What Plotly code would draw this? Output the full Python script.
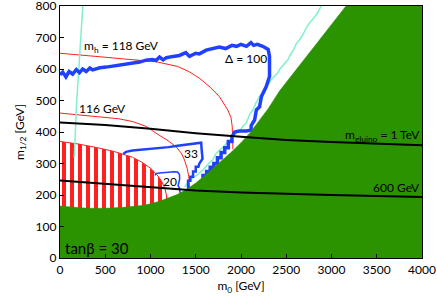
import plotly.graph_objects as go

# excluded region (green) lower/left boundary
green_m0 = [0, 150, 300, 500, 700, 900, 1000, 1100, 1200, 1300, 1400, 1500, 1600, 1700,
            1800, 1900, 2000, 2100, 2200, 2300, 2425, 2600, 2800, 3000, 3160]
green_m12 = [165, 161, 158, 158, 161, 167, 172, 180, 190, 202, 218, 238, 262, 287,
             312, 338, 366, 398, 436, 474, 530, 595, 667, 740, 800]

# red hatched region (upper edge)
hatch_m0 = [0, 200, 400, 600, 800, 900, 1000, 1070, 1120, 1160, 1185]
hatch_m12 = [370, 362, 351, 338, 320, 305, 285, 265, 245, 220, 188]

# Higgs mass contours
mh118_m0 = [0, 200, 437, 700, 1063, 1300, 1431, 1544, 1660, 1762, 1854, 1890, 1903, 1909, 1910]
mh118_m12 = [650, 646, 639, 632, 623, 608, 591, 570, 542, 512, 470, 445, 417, 375, 345]
mh116_m0 = [0, 200, 437, 650, 804, 950, 1063, 1180, 1284, 1340, 1376, 1405, 1423, 1431]
mh116_m12 = [460, 455, 449, 442, 433, 418, 396, 375, 353, 333, 311, 285, 258, 222]

# cyan contours
cyanL_m0 = [252, 247, 243, 238, 236, 231, 228, 224, 222, 218, 215, 210, 205, 200, 195, 190,
            186, 182, 180, 177, 176, 173, 171, 167, 165, 162, 160, 158]
cyanL_m12 = [800, 775, 760, 742, 713, 695, 680, 660, 640, 622, 607, 590, 570, 555, 540, 520,
             502, 485, 470, 455, 440, 418, 396, 380, 370, 355, 343, 320]
cyanR_m0 = [2886, 2850, 2800, 2760, 2720, 2690, 2646, 2610, 2580, 2550, 2520, 2490, 2462,
            2430, 2400, 2370, 2333, 2300, 2270, 2240, 2204, 2170, 2130, 2095, 2057, 2020,
            1990, 1950, 1909, 1880, 1840, 1800, 1762, 1740, 1720, 1700, 1688, 1660, 1630,
            1600, 1578, 1545, 1510, 1480, 1450, 1420, 1400, 1376]
cyanR_m12 = [800, 780, 760, 748, 730, 712, 692, 680, 660, 648, 630, 620, 607, 600, 585, 578,
             565, 552, 540, 528, 512, 495, 470, 455, 428, 418, 405, 397, 385, 372, 365, 350,
             343, 335, 330, 318, 311, 305, 295, 288, 279, 272, 262, 257, 248, 242, 235, 225]

# fine-tuning contours (blue)
d100_m0 = [0, 30, 65, 100, 140, 180, 215, 250, 290, 330, 360, 440, 510, 580, 650, 730, 800,
           880, 950, 1020, 1060, 1100, 1140, 1175, 1250, 1320, 1390, 1430, 1500, 1540, 1615,
           1690, 1760, 1830, 1900, 1950, 2000, 2060, 2110, 2140, 2180, 2240, 2300, 2315, 2315,
           2280, 2240, 2225, 2205, 2170, 2150, 2112, 2112, 2057, 1980, 1930, 1900, 1900, 1860,
           1860, 1820, 1820, 1780, 1780, 1740, 1740, 1700, 1700, 1660, 1660, 1620, 1620, 1580,
           1580]
d100_m12 = [582, 590, 575, 592, 584, 598, 588, 600, 592, 603, 597, 604, 606, 609, 612, 615, 618,
            622, 628, 630, 627, 638, 629, 636, 640, 643, 652, 640, 650, 648, 660, 664, 670, 665,
            675, 672, 678, 672, 684, 675, 678, 672, 662, 640, 576, 545, 523, 512, 480, 470, 438,
            420, 406, 403, 403, 400, 385, 370, 370, 350, 350, 335, 335, 318, 318, 300, 300, 288,
            288, 275, 275, 262, 262, 245]
d33_m0 = [700, 730, 800, 880, 950, 1000, 1100, 1200, 1300, 1400, 1480, 1560, 1565, 1575, 1540,
          1530, 1500, 1500, 1470, 1470, 1440, 1440, 1415, 1415]
d33_m12 = [330, 337, 341, 343, 344, 347, 350, 352, 356, 360, 364, 366, 345, 315, 300, 290, 290,
           275, 275, 258, 258, 245, 245, 215]
d20_m0 = [1050, 1060, 1100, 1150, 1200, 1260, 1300, 1320, 1322, 1310, 1305, 1320, 1330]
d20_m12 = [262, 268, 270, 272, 272, 274, 273, 265, 250, 240, 230, 222, 200]

# gluino mass lines
glu_m0 = [0, 500, 1000, 1500, 2000, 2500, 3000, 3500, 4000]
glu1000_m12 = [430, 422, 410, 396, 385, 375, 368, 363, 358]
glu600_m12 = [246, 235, 223, 214, 208, 203, 200, 197, 194]

GREEN = '#2b9300'
RED = '#ff2020'
BLUE = '#2040ff'
CYAN = '#7ff0d0'
FONT = 'Lato'

fig = go.Figure()

# hatched region
fig.add_trace(go.Scatter(
    x=hatch_m0 + [hatch_m0[-1], 0], y=hatch_m12 + [0, 0],
    mode='lines', fill='toself', line=dict(color=RED, width=1),
    fillcolor='white',
    fillpattern=dict(shape='|', fgcolor=RED, bgcolor='white', size=8, solidity=0.5,
                     fillmode='replace'),
    hoverinfo='skip'))

for xs, ys in [(mh118_m0, mh118_m12), (mh116_m0, mh116_m12)]:
    fig.add_trace(go.Scatter(x=xs, y=ys, mode='lines', line=dict(color=RED, width=1)))

for xs, ys in [(cyanL_m0, cyanL_m12), (cyanR_m0, cyanR_m12)]:
    fig.add_trace(go.Scatter(x=xs, y=ys, mode='lines', line=dict(color=CYAN, width=1.5)))

fig.add_trace(go.Scatter(x=d100_m0, y=d100_m12, mode='lines', line=dict(color=BLUE, width=3.5)))
fig.add_trace(go.Scatter(x=d33_m0, y=d33_m12, mode='lines', line=dict(color=BLUE, width=2.5)))
fig.add_trace(go.Scatter(x=d20_m0, y=d20_m12, mode='lines', line=dict(color=BLUE, width=1.5)))

# green excluded region
fig.add_trace(go.Scatter(
    x=green_m0 + [4000, 4000, 0], y=green_m12 + [800, 0, 0],
    mode='lines', fill='toself', fillcolor=GREEN, line=dict(color=GREEN, width=0.5)))

fig.add_trace(go.Scatter(x=glu_m0, y=glu1000_m12, mode='lines', line=dict(color='black', width=2)))
fig.add_trace(go.Scatter(x=glu_m0, y=glu600_m12, mode='lines', line=dict(color='black', width=2)))

labels = [
    ('m<sub>h</sub> = 118 GeV', 674, 670, 12),
    ('116 GeV', 475, 476, 12),
    ('Δ = 100', 2050, 632, 12),
    ('33', 1442, 333, 12),
    ('20', 1210, 244, 12),
    ('m<sub>gluino</sub> = 1 TeV', 3564, 390, 12),
    ('600 GeV', 3713, 225, 12),
    ('tanβ = 30', 414, 32, 15),
]
for txt, x, y, s in labels:
    fig.add_annotation(x=x, y=y, text=txt, showarrow=False, xanchor='center', yanchor='middle',
                       font=dict(size=s, color='black', family=FONT))

axis_common = dict(showline=True, linecolor='black', linewidth=1.2, mirror=True, ticks='inside',
                   ticklen=4, tickcolor='black', showgrid=False, zeroline=False,
                   automargin=False, ticklabeloverflow='allow',
                   tickfont=dict(size=12, color='black', family=FONT))
fig.update_layout(
    width=437, height=300,
    margin=dict(l=60, r=15, t=6, b=42),
    plot_bgcolor='white', paper_bgcolor='white',
    showlegend=False,
    xaxis=dict(range=[0, 4000], dtick=500,
               title=dict(text='m<sub>0</sub> [GeV]', font=dict(size=12, color='black', family=FONT),
                          standoff=6),
               **axis_common),
    yaxis=dict(range=[0, 800], dtick=100,
               title=dict(text='m<sub>1/2</sub> [GeV]', font=dict(size=12, color='black', family=FONT),
                          standoff=8),
               **axis_common),
)

fig.write_html("out.html", config={'displayModeBar': False},
               post_script="document.body.style.margin='0px';")
